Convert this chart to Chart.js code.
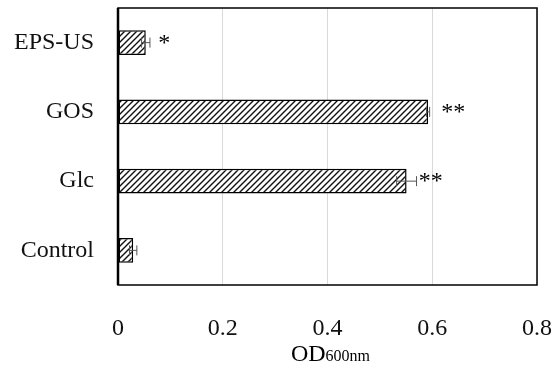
<!DOCTYPE html>
<html>
<head>
<meta charset="utf-8">
<script src="https://cdn.jsdelivr.net/npm/chart.js@4"></script>
<style>
  html, body { margin: 0; padding: 0; background: #fff; }
  #wrap { width: 555px; height: 374px; }
</style>
</head>
<body>
<div id="wrap"><canvas id="odChart" width="555" height="374"></canvas></div>
<script>
// chart data
const categories = ['EPS-US', 'GOS', 'Glc', 'Control'];
const odValues = [0.053, 0.592, 0.551, 0.029];
const odErrors = [0.008, 0.003, 0.019, 0.007];
const sigMarks = ['*', '**', '**', ''];
const sigMarkAt = [0.077, 0.617, 0.574, 0];   // where the star text starts, in OD units
const xTicks = [0, 0.2, 0.4, 0.6, 0.8];

const serif = "'Liberation Serif', 'DejaVu Serif', serif";

// diagonal hatch fill
function makeHatch() {
    const size = 6;
    const c = document.createElement('canvas');
    c.width = size;
    c.height = size;
    const g = c.getContext('2d');
    g.fillStyle = '#fff';
    g.fillRect(0, 0, size, size);
    g.strokeStyle = '#111';
    g.lineWidth = 1.4;
    g.beginPath();
    g.moveTo(-1, size + 1);
    g.lineTo(size + 1, -1);
    g.moveTo(-1, 1);
    g.lineTo(1, -1);
    g.moveTo(size - 1, size + 1);
    g.lineTo(size + 1, size - 1);
    g.stroke();
    return g.createPattern(c, 'repeat');
}

// error bars, stars, frame and the axis title
const extrasPlugin = {
    id: 'extras',
    afterDatasetsDraw(chart) {
        const ctx = chart.ctx;
        const xs = chart.scales.x;
        const meta = chart.getDatasetMeta(0);
        const area = chart.chartArea;

        ctx.save();
        // frame
        ctx.strokeStyle = '#000';
        ctx.lineWidth = 1.5;
        ctx.strokeRect(area.left, area.top, area.right - area.left, area.bottom - area.top);
        ctx.lineWidth = 2.5;
        ctx.beginPath();
        ctx.moveTo(area.left, area.top);
        ctx.lineTo(area.left, area.bottom);
        ctx.stroke();

        // error bars
        ctx.strokeStyle = '#555';
        ctx.lineWidth = 1;
        meta.data.forEach((bar, i) => {
            const y = bar.y;
            const x1 = xs.getPixelForValue(odValues[i] - odErrors[i]);
            const x2 = xs.getPixelForValue(odValues[i] + odErrors[i]);
            ctx.beginPath();
            ctx.moveTo(x1, y);
            ctx.lineTo(x2, y);
            ctx.moveTo(x1, y - 5);
            ctx.lineTo(x1, y + 5);
            ctx.moveTo(x2, y - 5);
            ctx.lineTo(x2, y + 5);
            ctx.stroke();
        });

        // significance stars
        ctx.fillStyle = '#000';
        ctx.font = '24px ' + serif;
        ctx.textAlign = 'left';
        ctx.textBaseline = 'middle';
        meta.data.forEach((bar, i) => {
            if (!sigMarks[i]) return;
            ctx.fillText(sigMarks[i], xs.getPixelForValue(sigMarkAt[i]), bar.y + 1);
        });

        // axis title OD with subscript 600nm
        const cx = (area.left + area.right) / 2 + 3;
        const base = 361;
        ctx.font = '24px ' + serif;
        ctx.textBaseline = 'alphabetic';
        const w1 = ctx.measureText('OD').width;
        ctx.font = '16px ' + serif;
        const w2 = ctx.measureText('600nm').width;
        const start = cx - (w1 + w2) / 2;
        ctx.font = '24px ' + serif;
        ctx.fillText('OD', start, base);
        ctx.font = '16px ' + serif;
        ctx.fillText('600nm', start + w1, base);
        ctx.restore();
    }
};

document.addEventListener('DOMContentLoaded', function() {
    const ctx = document.getElementById('odChart').getContext('2d');
    const hatch = makeHatch();

    new Chart(ctx, {
        type: 'bar',
        data: {
            labels: categories,
            datasets: [{
                data: odValues,
                backgroundColor: hatch,
                borderColor: '#000',
                borderWidth: 1.5,
                borderSkipped: false,
                categoryPercentage: 1,
                barPercentage: 0.36
            }]
        },
        options: {
            indexAxis: 'y',
            responsive: false,
            animation: false,
            layout: { padding: { top: 8, right: 18, left: 0, bottom: 0 } },
            plugins: {
                legend: { display: false },
                tooltip: { enabled: false }
            },
            scales: {
                x: {
                    min: 0,
                    max: 0.8,
                    afterBuildTicks(scale) {
                        scale.ticks = xTicks.map(v => ({ value: v }));
                    },
                    afterFit(scale) {
                        scale.height = 89;
                        scale.paddingLeft = 0;
                        scale.paddingRight = 0;
                    },
                    grid: { color: '#d9d9d9', lineWidth: 1, drawTicks: false },
                    border: { display: false },
                    ticks: {
                        color: '#111',
                        font: { family: serif, size: 24 },
                        padding: 29,
                        maxRotation: 0,
                        callback: v => String(v)
                    }
                },
                y: {
                    afterFit(scale) {
                        scale.width = 118;
                        scale.paddingTop = 0;
                        scale.paddingBottom = 0;
                    },
                    grid: { display: false, drawTicks: false },
                    border: { display: false },
                    ticks: {
                        color: '#111',
                        font: { family: serif, size: 24 },
                        padding: 24
                    }
                }
            }
        },
        plugins: [extrasPlugin]
    });
});
</script>
</body>
</html>
